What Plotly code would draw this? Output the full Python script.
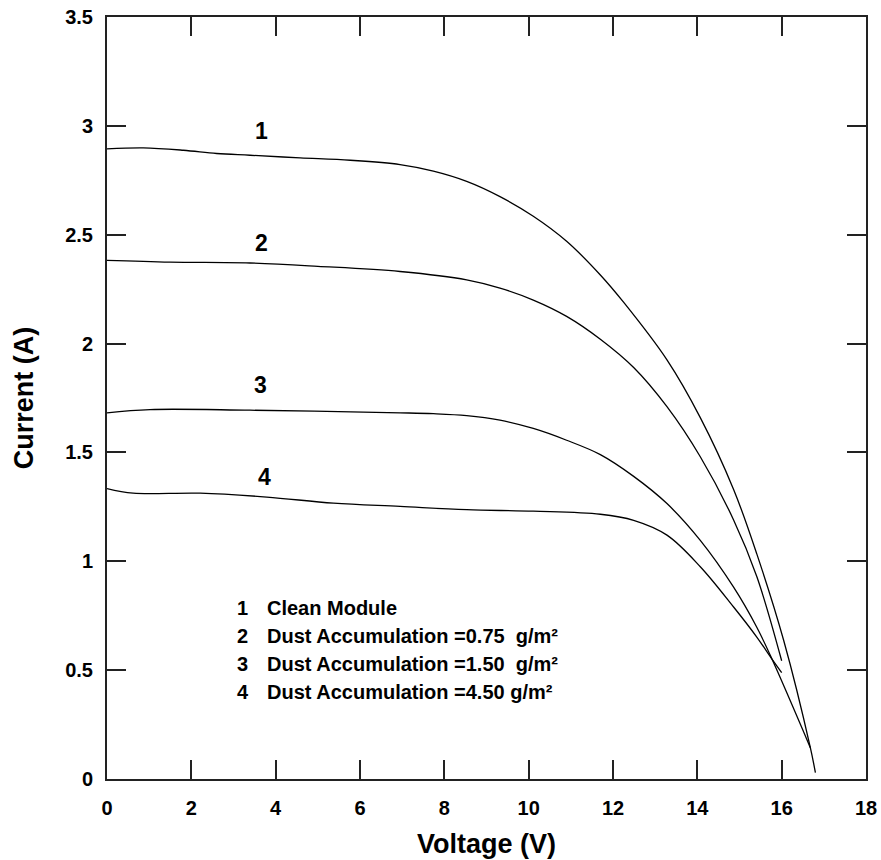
import plotly.graph_objects as go

# I-V characteristics of a PV module under increasing dust load
v_clean = [0, 0.86, 1.81, 2.6, 3.39, 4.58, 5.77, 6.95, 7.74, 8.53, 9.32, 10.11,
           10.9, 11.7, 12.25, 13.28, 14.07, 14.86, 15.41, 16.05, 16.68, 16.8]
i_clean = [2.894, 2.899, 2.888, 2.873, 2.865, 2.853, 2.842, 2.822, 2.792, 2.745,
           2.675, 2.585, 2.47, 2.315, 2.19, 1.925, 1.66, 1.33, 1.034, 0.635,
           0.144, 0.029]

v_dust075 = [0, 1.5, 3.39, 5.0, 6.95, 8.53, 9.32, 10.11, 10.9, 11.7, 12.49,
             13.28, 14.07, 14.86, 15.41, 16.0]
i_dust075 = [2.382, 2.374, 2.370, 2.355, 2.331, 2.293, 2.255, 2.20, 2.125, 2.02,
             1.89, 1.71, 1.48, 1.19, 0.93, 0.543]

v_dust150 = [0, 1.02, 3.39, 6.95, 7.74, 8.53, 9.32, 10.11, 10.9, 11.7, 12.49,
             13.28, 14.07, 14.86, 15.41, 15.77, 16.68]
i_dust150 = [1.682, 1.697, 1.694, 1.682, 1.678, 1.669, 1.648, 1.610, 1.556, 1.49,
             1.39, 1.265, 1.096, 0.881, 0.697, 0.551, 0.144]

v_dust450 = [0, 0.62, 2.21, 3.79, 5.37, 6.95, 8.53, 10.11, 11.7, 12.49, 13.28,
             14.07, 14.86, 15.41, 15.77, 16.0]
i_dust450 = [1.334, 1.313, 1.313, 1.295, 1.267, 1.252, 1.237, 1.230, 1.216,
             1.188, 1.12, 0.975, 0.79, 0.652, 0.551, 0.489]

curve_ids = ["1", "2", "3", "4"]
legend_texts = [
    "Clean Module",
    "Dust Accumulation =0.75&nbsp; g/m²",
    "Dust Accumulation =1.50&nbsp; g/m²",
    "Dust Accumulation =4.50 g/m²",
]

# where each curve number sits (V, A)
id_label_v = [3.66, 3.66, 3.64, 3.74]
id_label_i = [2.975, 2.462, 1.808, 1.385]

# key block placement (V, A)
key_num_v = 3.04
key_text_v = 3.75
key_rows_i = [0.784, 0.655, 0.526, 0.40]

x_ticks = list(range(0, 19, 2))
y_ticks = [0, 0.5, 1, 1.5, 2, 2.5, 3, 3.5]

FONT = "Liberation Sans, Arial, Helvetica, sans-serif"

fig = go.Figure()
for vs, cs in [(v_clean, i_clean), (v_dust075, i_dust075),
               (v_dust150, i_dust150), (v_dust450, i_dust450)]:
    fig.add_trace(go.Scatter(
        x=vs, y=cs, mode="lines",
        line=dict(color="black", width=1.3, shape="spline", smoothing=1.0),
        showlegend=False, hoverinfo="skip",
    ))

annotations = []
for cid, xv, yv in zip(curve_ids, id_label_v, id_label_i):
    annotations.append(dict(
        x=xv, y=yv, xref="x", yref="y", text=cid, showarrow=False,
        font=dict(family=FONT, size=23, color="black", weight="bold"),
        xanchor="center", yanchor="middle",
    ))
for cid, txt, yv in zip(curve_ids, legend_texts, key_rows_i):
    annotations.append(dict(
        x=key_num_v, y=yv, xref="x", yref="y", text=cid, showarrow=False,
        font=dict(family=FONT, size=20, color="black", weight="bold"),
        xanchor="left", yanchor="middle",
    ))
    annotations.append(dict(
        x=key_text_v, y=yv, xref="x", yref="y", text=txt, showarrow=False,
        font=dict(family=FONT, size=20, color="black", weight="bold"),
        xanchor="left", yanchor="middle",
    ))

axis_common = dict(
    showline=True, linecolor="#222", linewidth=2, mirror="ticks",
    ticks="inside", ticklen=19, tickwidth=1.5, tickcolor="#222",
    showgrid=False, zeroline=False, automargin=False,
    tickfont=dict(family=FONT, size=20, color="black", weight="bold"),
)

fig.update_layout(
    width=881, height=860,
    margin=dict(l=107, r=15, t=17, b=81),
    paper_bgcolor="white", plot_bgcolor="white",
    xaxis=dict(range=[0, 18], tickvals=x_ticks, ticklabelstandoff=10,
               title=dict(text="Voltage (V)", standoff=16,
                          font=dict(family=FONT, size=27, color="black", weight="bold")),
               **axis_common),
    yaxis=dict(range=[0, 3.5], tickvals=y_ticks, ticklabelstandoff=8,
               title=dict(text="Current (A)", standoff=24,
                          font=dict(family=FONT, size=27, color="black", weight="bold")),
               **axis_common),
    annotations=annotations,
)

fig.write_html("out.html")
